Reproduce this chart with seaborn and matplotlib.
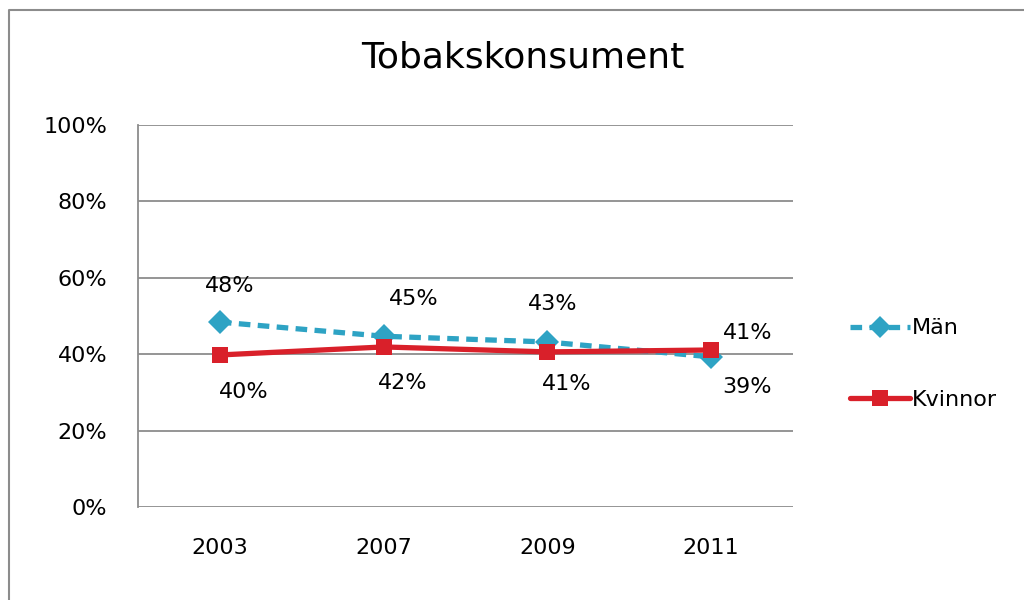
import numpy as np
import pandas as pd
import matplotlib
matplotlib.use('Agg')
import matplotlib.pyplot as plt
from matplotlib.lines import Line2D
import seaborn as sns

# data
years = ['2003', '2007', '2009', '2011']
man = [0.484, 0.447, 0.432, 0.393]
kvinnor = [0.398, 0.419, 0.406, 0.411]
yticks = [0, 0.2, 0.4, 0.6, 0.8, 1.0]

df = pd.DataFrame({
    'pos': list(range(len(years))) * 2,
    'value': man + kvinnor,
    'kon': ['Män'] * len(years) + ['Kvinnor'] * len(years),
})

sns.set_theme(style='white')
plt.rcParams['font.family'] = ['DejaVu Sans']
plt.rcParams['text.color'] = 'black'

blue = '#2ea3c4'
red = '#d9202a'
grid_col = '#8c8c8c'

fig = plt.figure(figsize=(10.24, 6), dpi=100)
ax = fig.add_axes([138 / 1024, 1 - 507 / 600, 655 / 1024, 382 / 600])

sns.lineplot(data=df, x='pos', y='value', hue='kon', style='kon',
             palette={'Män': blue, 'Kvinnor': red},
             markers={'Män': 'D', 'Kvinnor': 's'},
             dashes={'Män': (2.2, 1.4), 'Kvinnor': ''},
             markersize=12, linewidth=3.8, markeredgewidth=0,
             legend=False, ax=ax)

ax.set_xlim(-0.5, len(years) - 0.5)
ax.set_ylim(0, 1)
ax.set_xticks(range(len(years)))
ax.set_xticklabels(years)
ax.set_yticks(yticks)
ax.set_yticklabels(['{:.0f}%'.format(v * 100) for v in yticks])
ax.tick_params(axis='both', length=0, labelsize=16, colors='black')
ax.tick_params(axis='x', pad=22)
ax.tick_params(axis='y', pad=22)
ax.set_xlabel('')
ax.set_ylabel('')

ax.yaxis.grid(True, color=grid_col, linewidth=1.3)
ax.set_axisbelow(True)
for s in ['top', 'right', 'bottom']:
    ax.spines[s].set_visible(False)
ax.spines['left'].set_color(grid_col)
ax.spines['left'].set_linewidth(1.3)

# dataetiketter (offset i punkter)
man_off = [(7, 26), (22, 27), (4, 27), (26, -22)]
kv_off = [(17, -27), (14, -26), (14, -23), (26, 12)]
for i in range(len(years)):
    ax.annotate('{:.0f}%'.format(man[i] * 100), (i, man[i]), xytext=man_off[i],
                textcoords='offset points', ha='center', va='center', fontsize=16,
                color='black')
    ax.annotate('{:.0f}%'.format(kvinnor[i] * 100), (i, kvinnor[i]), xytext=kv_off[i],
                textcoords='offset points', ha='center', va='center', fontsize=16,
                color='black')

fig.text(523 / 1024, 1 - 58 / 600, 'Tobakskonsument', ha='center', va='center',
         fontsize=26, color='black')

handles = [
    Line2D([], [], color=blue, linestyle=(0, (2.2, 1.4)), linewidth=3.8, marker='D',
           markersize=11, markeredgewidth=0),
    Line2D([], [], color=red, linestyle='-', linewidth=3.8, marker='s',
           markersize=11, markeredgewidth=0),
]
leg = fig.legend(handles, ['Män', 'Kvinnor'], loc='center left',
                 bbox_to_anchor=(830 / 1024, 1 - 364 / 600), frameon=False,
                 fontsize=16, handlelength=2.7, handletextpad=0.1, labelspacing=2.3)
for t in leg.get_texts():
    t.set_color('black')

# ram runt diagrammet
fig.add_artist(Line2D([9 / 1024, 9 / 1024, 1], [0, 1 - 10 / 600, 1 - 10 / 600],
                      transform=fig.transFigure, color='#8c8c8c', linewidth=1.5))

fig.savefig('out.png', dpi=100)
